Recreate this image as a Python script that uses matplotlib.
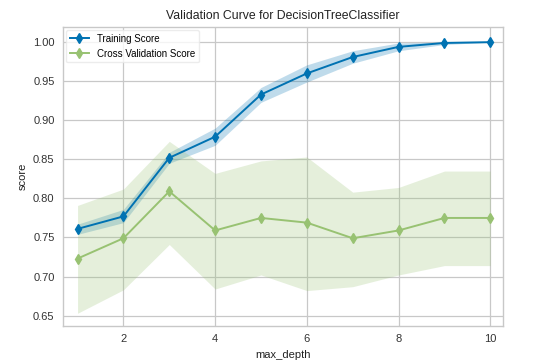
import numpy as np
import matplotlib
matplotlib.use('Agg')
import matplotlib.pyplot as plt

# max_depth values
depth = [1, 2, 3, 4, 5, 6, 7, 8, 9, 10]

# training scores: mean and band limits
train_mean = [0.761, 0.777, 0.852, 0.879, 0.933, 0.960, 0.981, 0.994, 0.999, 1.000]
train_low = [0.754, 0.769, 0.845, 0.868, 0.923, 0.949, 0.973, 0.989, 0.997, 1.000]
train_high = [0.767, 0.786, 0.859, 0.890, 0.942, 0.971, 0.989, 0.999, 1.000, 1.000]

# cross validation scores: mean and band limits
cv_mean = [0.723, 0.749, 0.809, 0.759, 0.775, 0.769, 0.749, 0.759, 0.775, 0.775]
cv_low = [0.653, 0.683, 0.741, 0.684, 0.702, 0.682, 0.687, 0.702, 0.714, 0.714]
cv_high = [0.791, 0.812, 0.873, 0.832, 0.848, 0.853, 0.808, 0.814, 0.835, 0.835]

blue = '#0072B2'
green = '#98C272'

plt.rcParams['font.family'] = ['Liberation Sans', 'DejaVu Sans']

fig, ax = plt.subplots(figsize=(5.33, 3.64), dpi=100)
fig.subplots_adjust(left=0.118, right=0.944, top=0.926, bottom=0.104)

ax.set_facecolor('white')
ax.grid(True, color='#c8c8c8', linewidth=0.9)
ax.set_axisbelow(True)
for s in ax.spines.values():
    s.set_color('#c8c8c8')
    s.set_linewidth(1.0)

ax.fill_between(depth, train_low, train_high, color=blue, alpha=0.25, linewidth=0)
ax.fill_between(depth, cv_low, cv_high, color=green, alpha=0.25, linewidth=0)
ax.plot(depth, train_mean, marker='d', color=blue, linewidth=1.4, markersize=5,
        label='Training Score')
ax.plot(depth, cv_mean, marker='d', color=green, linewidth=1.4, markersize=5,
        label='Cross Validation Score')

ax.set_xlim(0.68, 10.28)
ax.set_ylim(0.6365, 1.0195)
ax.set_xticks([2, 4, 6, 8, 10])
ax.set_yticks(np.arange(0.65, 1.001, 0.05))
ax.yaxis.set_major_formatter(matplotlib.ticker.FormatStrFormatter('%.2f'))
ax.tick_params(length=0, labelsize=8, colors='#333333', pad=6)

ax.set_title('Validation Curve for DecisionTreeClassifier', fontsize=8.8, color='#222222')
ax.set_xlabel('max_depth', fontsize=8, color='#222222')
ax.set_ylabel('score', fontsize=8, color='#222222')

leg = ax.legend(loc='upper left', fontsize=7, frameon=True, borderaxespad=0.3)
leg.get_frame().set_edgecolor('#e8e8e8')
leg.get_frame().set_facecolor('white')
leg.get_frame().set_alpha(0.8)

fig.savefig('out.png', dpi=100)
